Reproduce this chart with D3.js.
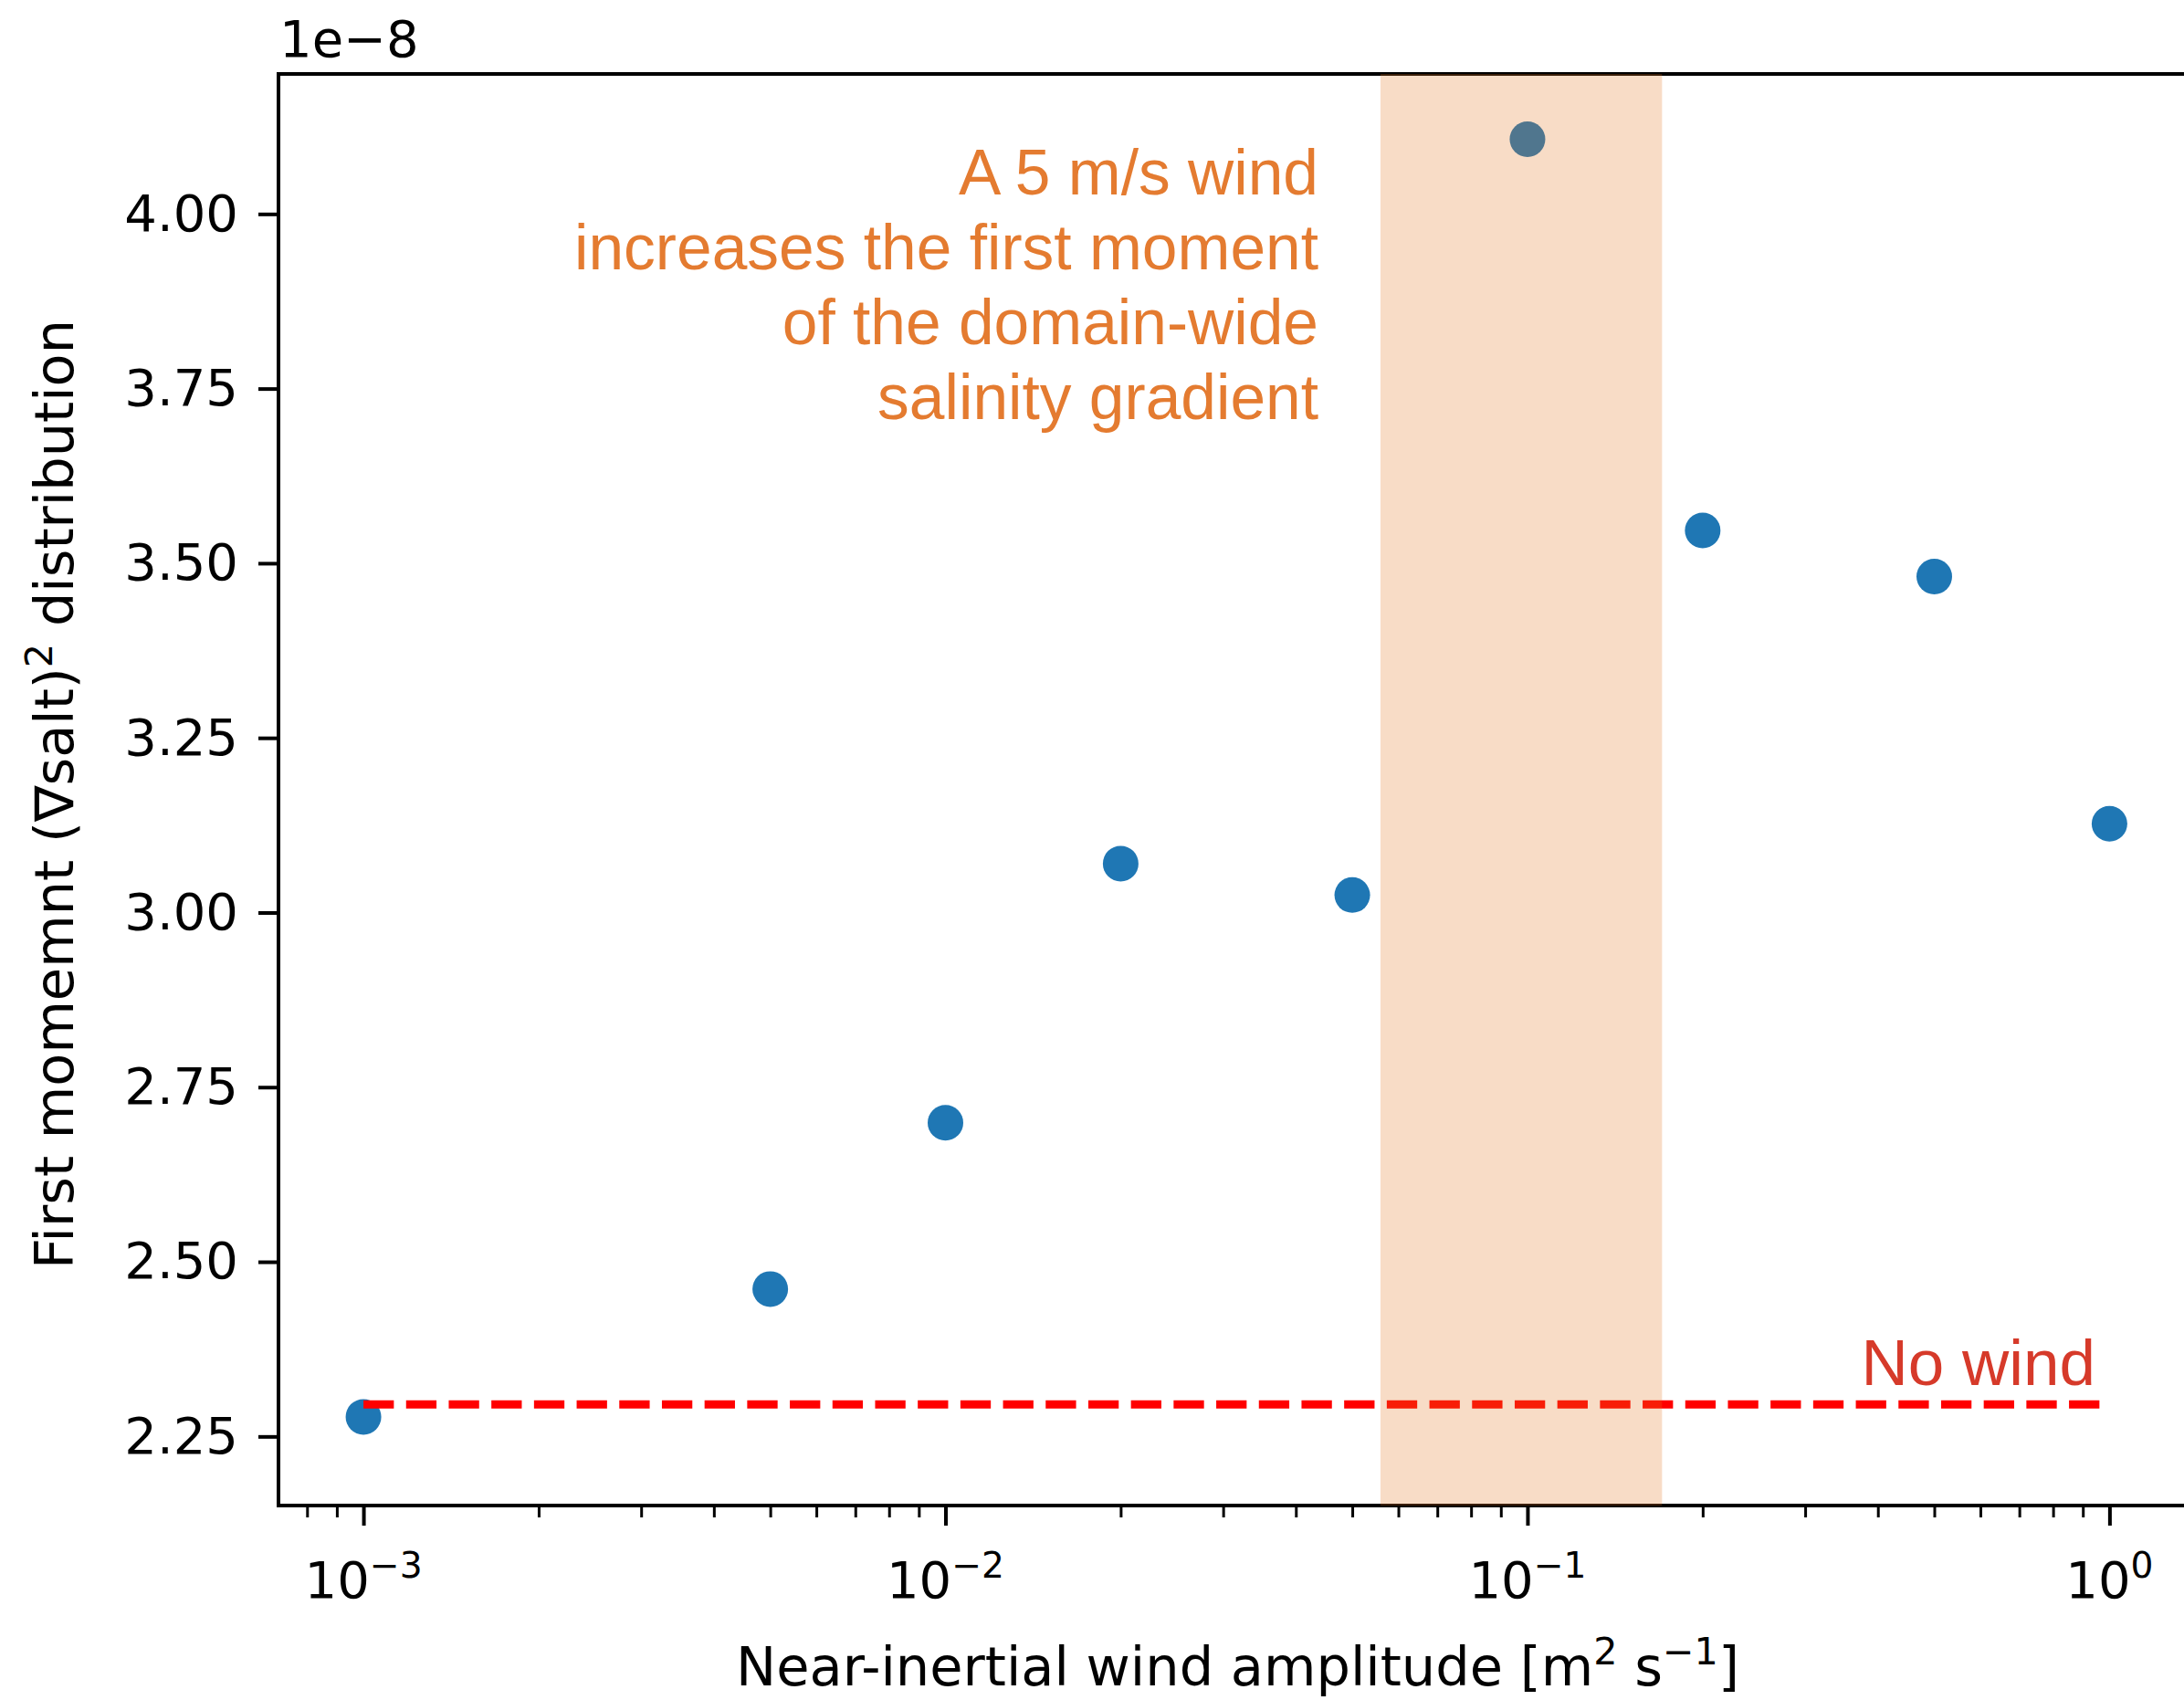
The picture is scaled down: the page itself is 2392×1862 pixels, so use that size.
<!DOCTYPE html>
<html>
<head>
<meta charset="utf-8">
<script src="https://cdn.jsdelivr.net/npm/d3@7"></script>
<style>
  html, body { margin: 0; padding: 0; background: #ffffff; }
  svg { display: block; }
</style>
</head>
<body>
<div id="chart"></div>
<script>
// ---------------- data ----------------
const windAmplitude = [0.001, 0.005, 0.01, 0.02, 0.05, 0.1, 0.2, 0.5, 1.0];
const firstMoment = [2.278e-8, 2.461e-8, 2.699e-8, 3.070e-8, 3.025e-8, 4.107e-8, 3.547e-8, 3.481e-8, 3.127e-8];
const noWindValue = 2.296e-8;
const noWindRange = [0.001, 1.0];
const highlightRange = [0.0559, 0.1703];
const yTickValues = [2.25e-8, 2.50e-8, 2.75e-8, 3.00e-8, 3.25e-8, 3.50e-8, 3.75e-8, 4.00e-8];
const yTickScale = 1e-8;
const yOffsetLabel = "1e\u22128";
const xTickExponents = [-3, -2, -1, 0];
const xMinorMultipliers = [2, 3, 4, 5, 6, 7, 8, 9];
const xLimits = [Math.pow(10, -3.146), Math.pow(10, 0.15)];
const yLimits = [2.1511e-8, 4.2004e-8];
const annotationLines = ["A 5 m/s wind", "increases the first moment", "of the domain-wide", "salinity gradient"];
const noWindLabel = "No wind";

// ---------------- layout ----------------
const W = 2392, H = 1862;
const plot = { left: 305, right: 2406, top: 81, bottom: 1649 };
const tickFont = "DejaVu Sans, sans-serif";
const annFont = "Liberation Sans, Arial, Helvetica, sans-serif";
const fs = 56;
const labelFs = 59;

const svg = d3.select("#chart").append("svg")
  .attr("width", W).attr("height", H)
  .attr("viewBox", `0 0 ${W} ${H}`);

const x = d3.scaleLog().domain(xLimits).range([plot.left, plot.right]);
const y = d3.scaleLinear().domain(yLimits).range([plot.bottom, plot.top]);

// ---------------- points ----------------
const pts = windAmplitude.map((w, i) => ({ w, v: firstMoment[i] }));
svg.append("g").selectAll("circle").data(pts).join("circle")
  .attr("cx", d => x(d.w))
  .attr("cy", d => y(d.v))
  .attr("r", 19.5)
  .attr("fill", "#1f77b4");

// ---------------- no-wind dashed line ----------------
svg.append("line")
  .attr("x1", x(noWindRange[0])).attr("x2", x(noWindRange[1]))
  .attr("y1", y(noWindValue)).attr("y2", y(noWindValue))
  .attr("stroke", "#ff0000")
  .attr("stroke-width", 9)
  .attr("stroke-dasharray", "33.3,13.4");

// ---------------- axes ----------------
const majorTicks = xTickExponents.map(e => Math.pow(10, e));
const minorTicks = [];
for (let e = xTickExponents[0] - 1; e <= xTickExponents[xTickExponents.length - 1]; e++) {
  xMinorMultipliers.forEach(m => {
    const v = m * Math.pow(10, e);
    if (v >= xLimits[0] && v <= xLimits[1]) minorTicks.push(v);
  });
}

const gx = svg.append("g").attr("transform", `translate(0,${plot.bottom})`)
  .call(d3.axisBottom(x).tickValues(majorTicks).tickSize(22).tickFormat(""));
gx.select(".domain").remove();
gx.selectAll(".tick line").attr("stroke", "#000").attr("stroke-width", 4);

const gxm = svg.append("g").attr("transform", `translate(0,${plot.bottom})`)
  .call(d3.axisBottom(x).tickValues(minorTicks).tickSize(13).tickFormat(""));
gxm.select(".domain").remove();
gxm.selectAll(".tick line").attr("stroke", "#000").attr("stroke-width", 3);

// x tick labels (10^n)
const xl = svg.append("g").selectAll("text").data(xTickExponents).join("text")
  .attr("x", d => x(Math.pow(10, d)))
  .attr("y", 1750)
  .attr("text-anchor", "middle")
  .attr("font-family", tickFont)
  .attr("font-size", fs)
  .attr("fill", "#000");
xl.append("tspan").text("10");
xl.append("tspan").attr("dy", -22).attr("font-size", fs * 0.7)
  .text(d => (d < 0 ? "\u2212" + Math.abs(d) : String(d)));

const gy = svg.append("g").attr("transform", `translate(${plot.left},0)`)
  .call(d3.axisLeft(y).tickValues(yTickValues).tickSize(22).tickPadding(22)
    .tickFormat(d => (d / yTickScale).toFixed(2)));
gy.select(".domain").remove();
gy.selectAll(".tick line").attr("stroke", "#000").attr("stroke-width", 4);
gy.selectAll(".tick text")
  .attr("font-family", tickFont).attr("font-size", fs).attr("fill", "#000");

// frame (spines)
svg.append("rect")
  .attr("x", plot.left).attr("y", plot.top)
  .attr("width", plot.right - plot.left).attr("height", plot.bottom - plot.top)
  .attr("fill", "none").attr("stroke", "#000").attr("stroke-width", 4);

// offset label
svg.append("text")
  .attr("x", 306).attr("y", 62)
  .attr("font-family", tickFont).attr("font-size", fs).attr("fill", "#000")
  .text(yOffsetLabel);

// x axis label
const xlab = svg.append("text")
  .attr("x", (plot.left + plot.right) / 2).attr("y", 1846)
  .attr("text-anchor", "middle")
  .attr("font-family", tickFont).attr("font-size", labelFs).attr("fill", "#000");
xlab.append("tspan").text("Near-inertial wind amplitude [m");
xlab.append("tspan").attr("dy", -23).attr("font-size", labelFs * 0.7).text("2");
xlab.append("tspan").attr("dy", 23).text(" s");
xlab.append("tspan").attr("dy", -23).attr("font-size", labelFs * 0.7).text("\u22121");
xlab.append("tspan").attr("dy", 23).text("]");

// y axis label
const ylab = svg.append("text")
  .attr("transform", `translate(80,${(plot.top + plot.bottom) / 2 + 5}) rotate(-90)`)
  .attr("text-anchor", "middle")
  .attr("font-family", tickFont).attr("font-size", labelFs).attr("fill", "#000");
ylab.append("tspan").text("First momemnt (\u2207salt)");
ylab.append("tspan").attr("dy", -23).attr("font-size", labelFs * 0.7).text("2");
ylab.append("tspan").attr("dy", 23).text(" distribution");

// ---------------- highlight span (drawn on top) ----------------
svg.append("rect")
  .attr("x", x(highlightRange[0]))
  .attr("width", x(highlightRange[1]) - x(highlightRange[0]))
  .attr("y", y(yLimits[1]))
  .attr("height", y(yLimits[0]) - y(yLimits[1]))
  .attr("fill", "#e3731b")
  .attr("fill-opacity", 0.25);

// ---------------- annotations ----------------
svg.append("g").selectAll("text").data(annotationLines).join("text")
  .attr("x", 1444)
  .attr("y", (d, i) => 213 + i * 82)
  .attr("text-anchor", "end")
  .attr("font-family", annFont)
  .attr("font-size", 69.5)
  .attr("fill", "#e47b30")
  .text(d => d);

svg.append("text")
  .attr("x", 2295).attr("y", 1517)
  .attr("text-anchor", "end")
  .attr("font-family", annFont)
  .attr("font-size", 71)
  .attr("fill", "#d63a2a")
  .text(noWindLabel);
</script>
</body>
</html>
